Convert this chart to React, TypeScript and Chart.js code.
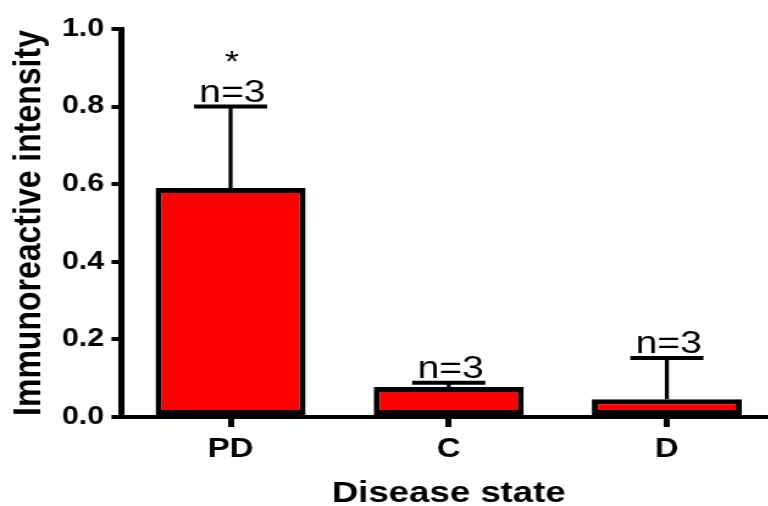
import React, { useEffect, useRef } from "react";
import { Chart, registerables } from "chart.js";

Chart.register(...registerables);

const categories = ["PD", "C", "D"];
const means = [0.59, 0.077, 0.046];
const sems = [0.21, 0.011, 0.106];
const nLabels = ["n=3", "n=3", "n=3"];
const sigMarks = ["*", "", ""];
const yTickValues = [0, 0.2, 0.4, 0.6, 0.8, 1.0];

const FONT = '"Liberation Sans", Arial, Helvetica, sans-serif';
const STRETCH = 1.22;
const CANVAS_W = 636;
const CANVAS_H = 506;

const errorPlugin = {
  id: "errorBarsAndLabels",
  afterDatasetsDraw(chart: any) {
    const { ctx } = chart;
    const x = chart.scales.x;
    const y = chart.scales.y;
    ctx.save();
    ctx.strokeStyle = "#000";
    ctx.fillStyle = "#000";
    ctx.lineCap = "butt";
    categories.forEach((_c, i) => {
      const cx = x.getPixelForValue(i);
      const yTop = y.getPixelForValue(means[i]);
      const yErr = y.getPixelForValue(means[i] + sems[i]);
      ctx.lineWidth = 3.3;
      ctx.beginPath();
      ctx.moveTo(cx, yTop);
      ctx.lineTo(cx, yErr);
      ctx.stroke();
      ctx.lineWidth = 4;
      ctx.beginPath();
      ctx.moveTo(cx - 30, yErr);
      ctx.lineTo(cx + 30, yErr);
      ctx.stroke();
      ctx.font = `32px ${FONT}`;
      ctx.textAlign = "center";
      ctx.textBaseline = "alphabetic";
      ctx.fillText(nLabels[i], cx + 1.5, yErr - 5);
      if (sigMarks[i]) {
        ctx.font = `30px ${FONT}`;
        ctx.fillText(sigMarks[i], cx + 1, yErr - 36);
      }
    });
    ctx.restore();
  },
};

export default function App() {
  const canvasRef = useRef<HTMLCanvasElement | null>(null);

  useEffect(() => {
    if (!canvasRef.current) return;
    const chart = new Chart(canvasRef.current, {
      type: "bar",
      data: {
        labels: categories,
        datasets: [
          {
            data: means,
            backgroundColor: "#FF0000",
            borderColor: "#000000",
            borderWidth: 5,
            borderSkipped: false,
            barPercentage: 0.688,
            categoryPercentage: 1.0,
          },
        ],
      },
      options: {
        responsive: false,
        animation: false,
        devicePixelRatio: 1,
        layout: { padding: { top: 29, left: 0, right: 0, bottom: 0 } },
        plugins: {
          legend: { display: false },
          tooltip: { enabled: false },
          title: { display: false },
        },
        scales: {
          x: {
            type: "category",
            offset: true,
            grid: {
              display: true,
              drawOnChartArea: false,
              drawTicks: true,
              tickLength: 10,
              lineWidth: 5,
              color: "#000",
              tickColor: "#000",
              offset: false,
            },
            border: { display: true, color: "#000", width: 4 },
            ticks: {
              color: "#000",
              padding: 6.3,
              font: { family: FONT, size: 27, weight: "bold" },
            },
            title: {
              display: true,
              text: "Disease state",
              color: "#000",
              font: { family: FONT, size: 30, weight: "bold", lineHeight: 0.8 },
              padding: { top: 0, bottom: 0 },
            },
            afterFit: (scale: any) => {
              scale.height = 89;
            },
          },
          y: {
            type: "linear",
            min: 0,
            max: 1.0,
            afterBuildTicks: (scale: any) => {
              scale.ticks = yTickValues.map((v) => ({ value: v }));
            },
            grid: {
              display: true,
              drawOnChartArea: false,
              drawTicks: true,
              tickLength: 8.2,
              lineWidth: 4,
              color: "#000",
              tickColor: "#000",
            },
            border: { display: true, color: "#000", width: 5 },
            ticks: {
              color: "#000",
              padding: 6,
              font: { family: FONT, size: 25, weight: "bold" },
              callback: (v: any) => Number(v).toFixed(1),
            },
            title: {
              display: true,
              text: "Immunoreactive intensity",
              color: "#000",
              font: { family: FONT, size: 32, weight: "bold" },
              padding: { top: 5, bottom: 0 },
            },
            afterFit: (scale: any) => {
              scale.width = 99.6;
            },
          },
        },
      },
      plugins: [errorPlugin],
    });
    return () => chart.destroy();
  }, []);

  return (
    <div
      style={{
        position: "fixed",
        left: 0,
        top: 0,
        width: 768,
        height: 506,
        overflow: "hidden",
        background: "#fff",
      }}
    >
      <div
        style={{
          width: CANVAS_W,
          height: CANVAS_H,
          transform: `scaleX(${STRETCH})`,
          transformOrigin: "0 0",
        }}
      >
        <canvas
          ref={canvasRef}
          width={CANVAS_W}
          height={CANVAS_H}
          style={{ display: "block", width: CANVAS_W, height: CANVAS_H }}
        />
      </div>
    </div>
  );
}
